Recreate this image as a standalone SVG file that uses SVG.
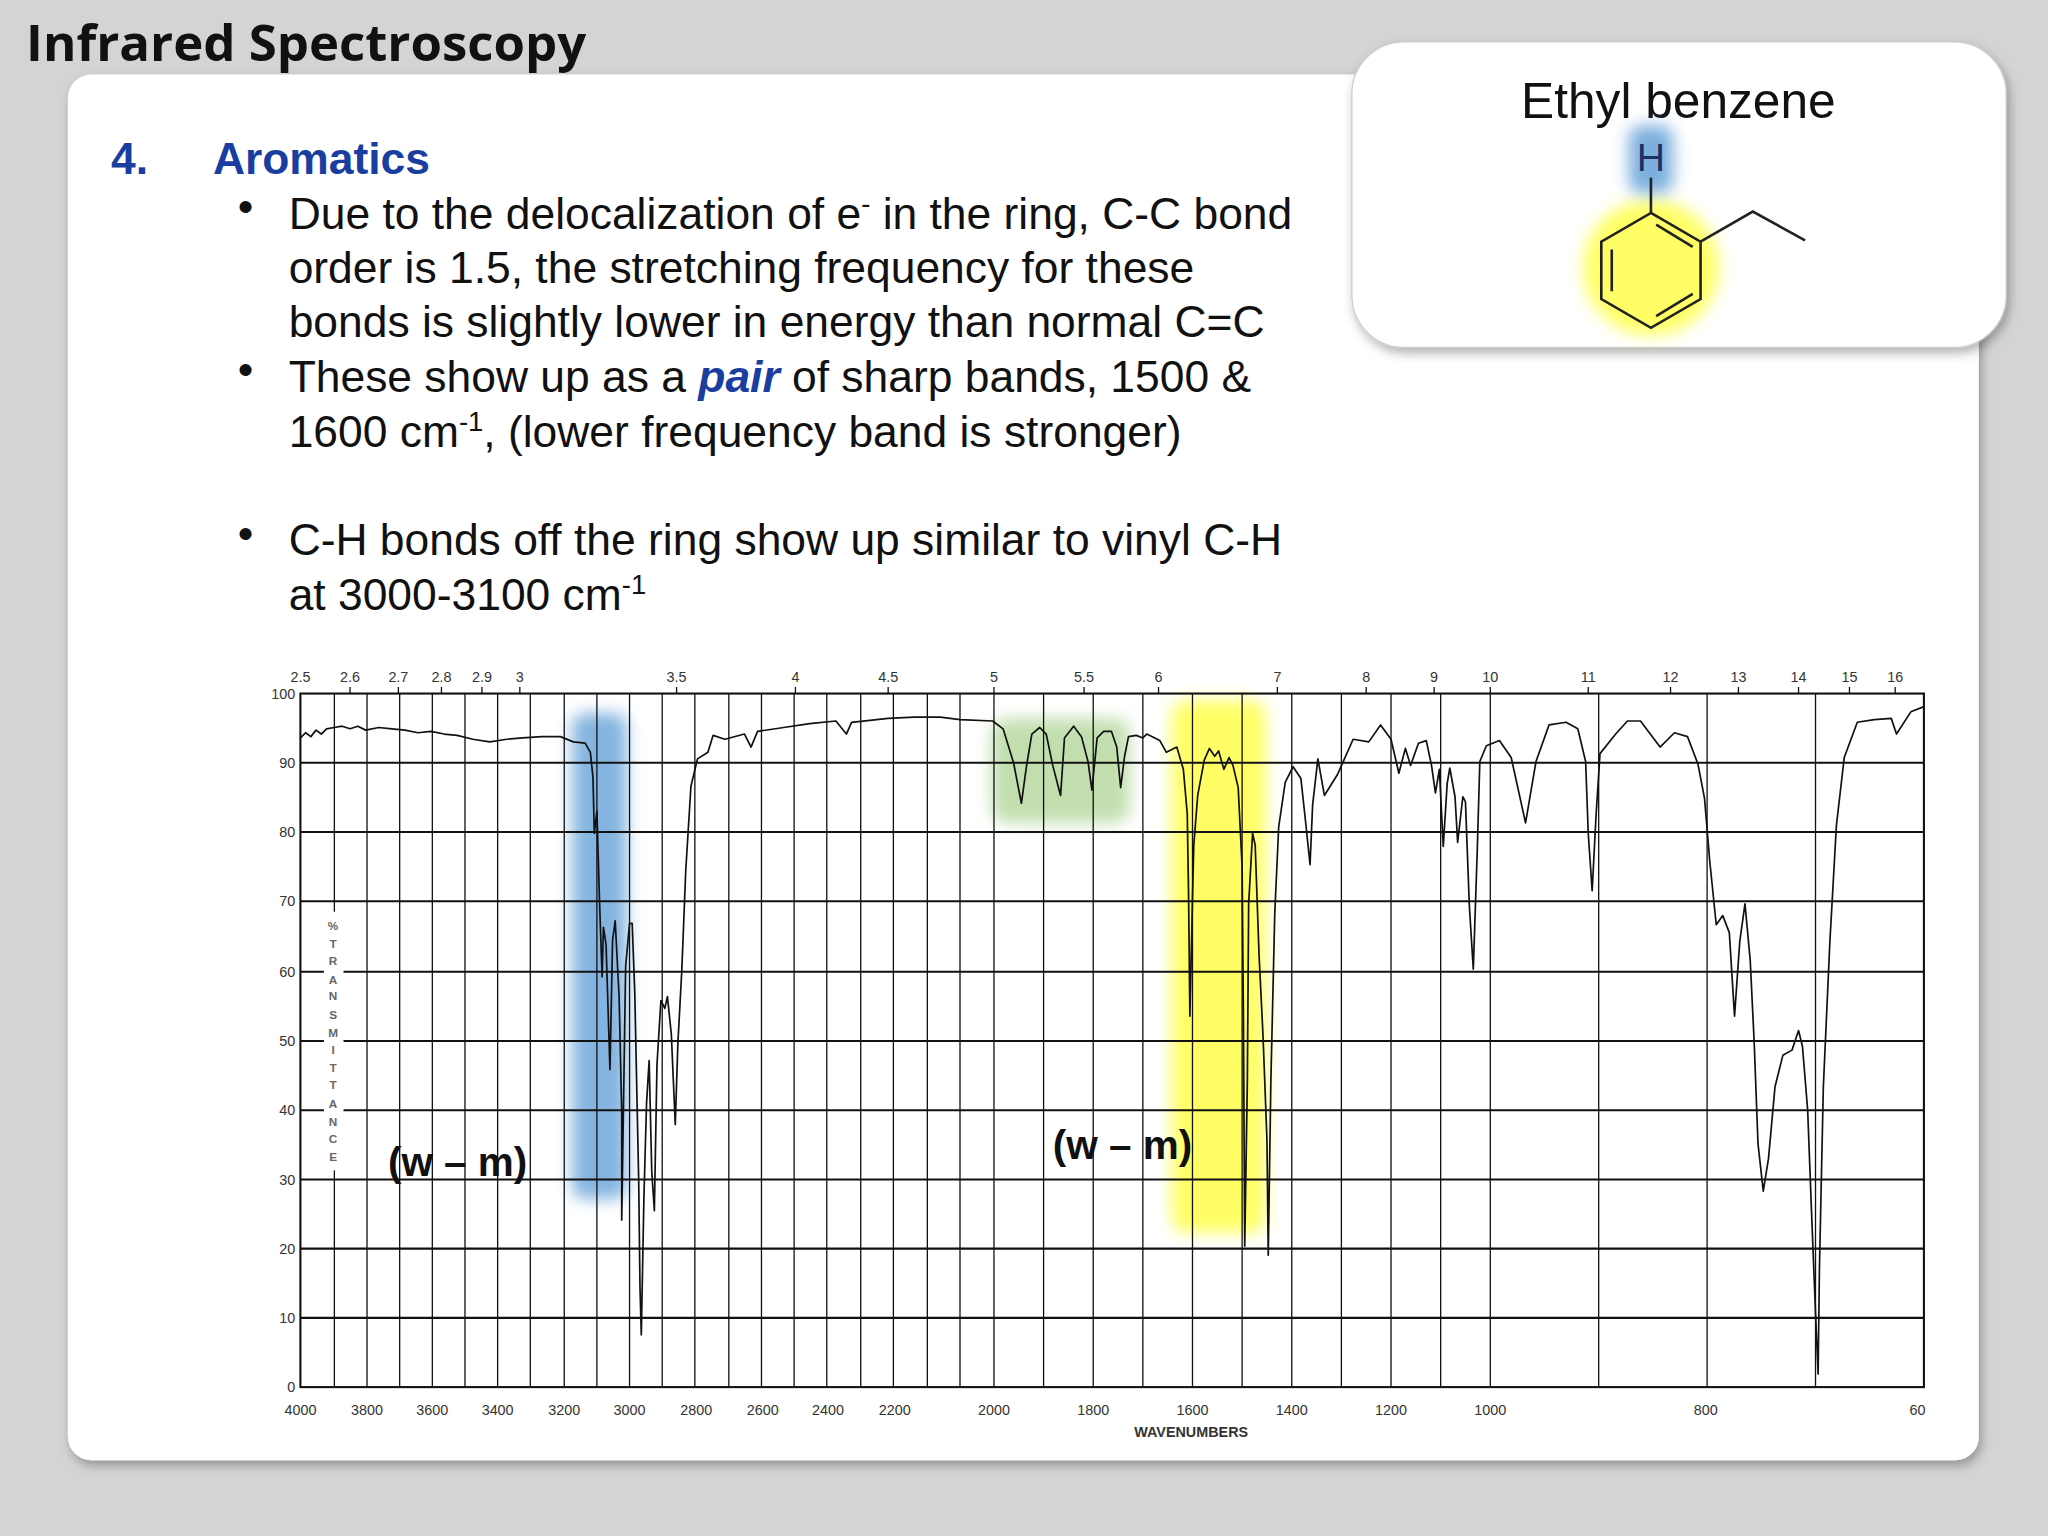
<svg xmlns="http://www.w3.org/2000/svg" width="2048" height="1536" viewBox="0 0 2048 1536">
<defs>
<filter id="sh" x="-5%" y="-5%" width="110%" height="110%"><feDropShadow dx="2" dy="4" stdDeviation="4" flood-color="#000" flood-opacity="0.3"/></filter>
<filter id="bl" x="-50%" y="-50%" width="200%" height="200%"><feGaussianBlur stdDeviation="6"/></filter>
<style>
.t{font-family:"Liberation Sans",Arial,sans-serif;fill:#111;font-size:34px}
.b{fill:#1a3ea0;font-weight:bold}
.ax{font-family:"Liberation Sans",Arial,sans-serif;font-size:11px;fill:#333}
.g{stroke:#111;stroke-width:1;fill:none}
.h{stroke:#111;stroke-width:1.6;fill:none}
.wm{font-family:"Liberation Sans",Arial,sans-serif;font-size:31px;font-weight:bold;fill:#111}
</style>
</defs>
<rect width="2048" height="1536" fill="#d4d4d4"/>
<g transform="scale(1.306122)">
<g id="panel"><rect x="52" y="57" width="1463" height="1061" rx="18" fill="#fff" filter="url(#sh)"/></g>
<g id="title"><text x="20" y="47" font-family="Open Sans,Noto Sans,sans-serif" font-weight="bold" font-size="39" fill="#111">Infrared Spectroscopy</text></g>
<g id="callout">
<rect x="1035" y="32" width="501" height="234" rx="40" fill="#fff" stroke="#ccc" filter="url(#sh)"/>
<text x="1285" y="90" text-anchor="middle" font-family="Liberation Sans,Arial,sans-serif" font-size="38" fill="#111">Ethyl benzene</text>
<circle cx="1264" cy="205" r="52" fill="#ffff33" opacity="0.75" filter="url(#bl)"/>
<rect x="1247" y="96" width="34" height="52" rx="10" fill="#5b9bd5" opacity="0.8" filter="url(#bl)"/>
<g stroke="#222" stroke-width="2" fill="none">
<polygon points="1264,163 1302,185 1302,229 1264,251 1226,229 1226,185"/>
<line x1="1234" y1="191" x2="1234" y2="223"/>
<line x1="1268" y1="172" x2="1296" y2="189"/>
<line x1="1268" y1="242" x2="1296" y2="225"/>
<polyline points="1302,185 1342,162 1382,184"/>
<line x1="1264" y1="163" x2="1264" y2="136"/>
</g>
<text x="1264" y="131" text-anchor="middle" font-family="Liberation Sans,Arial,sans-serif" font-size="30" fill="#1f2f5f">H</text>
</g>
<g id="text">
<text x="85" y="133" class="t b">4.</text>
<text x="163" y="133" class="t b">Aromatics</text>
<text x="182" y="170" class="t">•</text>
<text x="221" y="175" class="t">Due to the delocalization of e<tspan dy="-12" font-size="21">-</tspan><tspan dy="12"> in the ring, C-C bond</tspan></text>
<text x="221" y="217" class="t">order is 1.5, the stretching frequency for these</text>
<text x="221" y="258" class="t">bonds is slightly lower in energy than normal C=C</text>
<text x="182" y="295" class="t">•</text>
<text x="221" y="300" class="t">These show up as a <tspan class="b" font-style="italic">pair</tspan> of sharp bands, 1500 &amp;</text>
<text x="221" y="342" class="t">1600 cm<tspan dy="-12" font-size="21">-1</tspan><tspan dy="12">, (lower frequency band is stronger)</tspan></text>
<text x="182" y="420" class="t">•</text>
<text x="221" y="425" class="t">C-H bonds off the ring show up similar to vinyl C-H</text>
<text x="221" y="467" class="t">at 3000-3100 cm<tspan dy="-12" font-size="21">-1</tspan></text>
</g>
<g id="highlights">
<rect x="438" y="546" width="42" height="372" rx="10" fill="#5b9bd5" opacity="0.75" filter="url(#bl)"/>
<rect x="759" y="550" width="106" height="80" rx="12" fill="#a9d18e" opacity="0.7" filter="url(#bl)"/>
<rect x="897" y="536" width="72" height="408" rx="12" fill="#ffff33" opacity="0.75" filter="url(#bl)"/>
</g>
<g id="grid">
<path class="g" d="M256,531V1062M281,531V1062M306,531V1062M331,531V1062M356,531V1062M381,531V1062M406,531V1062M432,531V1062M457,531V1062M482,531V1062M507,531V1062M532,531V1062M558,531V1062M583,531V1062M608,531V1062M633,531V1062M659,531V1062M684,531V1062M710,531V1062M735,531V1062M761,531V1062M799,531V1062M837,531V1062M875,531V1062M913,531V1062M951,531V1062M989,531V1062M1027,531V1062M1065,531V1062M1103,531V1062M1141,531V1062M1224,531V1062M1307,531V1062M1390,531V1062"/>
<path class="h" d="M230,584H1473M230,637H1473M230,690H1473M230,744H1473M230,797H1473M230,850H1473M230,903H1473M230,956H1473M230,1009H1473"/>
<rect x="230" y="531" width="1243" height="531" fill="none" stroke="#111" stroke-width="1.6"/>
<rect x="248" y="698" width="15" height="198" fill="#fff"/>
<path class="g" d="M268,531v-5M305,531v-5M338,531v-5M369,531v-5M398,531v-5M518,531v-5M609,531v-5M680,531v-5M761,531v-5M830,531v-5M887,531v-5M978,531v-5M1046,531v-5M1098,531v-5M1141,531v-5M1216,531v-5M1279,531v-5M1331,531v-5M1377,531v-5M1416,531v-5M1451,531v-5"/>
<g class="ax" text-anchor="middle">
<text x="230" y="522">2.5</text><text x="268" y="522">2.6</text><text x="305" y="522">2.7</text><text x="338" y="522">2.8</text><text x="369" y="522">2.9</text><text x="398" y="522">3</text><text x="518" y="522">3.5</text><text x="609" y="522">4</text><text x="680" y="522">4.5</text><text x="761" y="522">5</text><text x="830" y="522">5.5</text><text x="887" y="522">6</text><text x="978" y="522">7</text><text x="1046" y="522">8</text><text x="1098" y="522">9</text><text x="1141" y="522">10</text><text x="1216" y="522">11</text><text x="1279" y="522">12</text><text x="1331" y="522">13</text><text x="1377" y="522">14</text><text x="1416" y="522">15</text><text x="1451" y="522">16</text>
<text x="230" y="1083">4000</text><text x="281" y="1083">3800</text><text x="331" y="1083">3600</text><text x="381" y="1083">3400</text><text x="432" y="1083">3200</text><text x="482" y="1083">3000</text><text x="533" y="1083">2800</text><text x="584" y="1083">2600</text><text x="634" y="1083">2400</text><text x="685" y="1083">2200</text><text x="761" y="1083">2000</text><text x="837" y="1083">1800</text><text x="913" y="1083">1600</text><text x="989" y="1083">1400</text><text x="1065" y="1083">1200</text><text x="1141" y="1083">1000</text><text x="1306" y="1083">800</text><text x="1468" y="1083">60</text>
<text x="912" y="1100" font-weight="bold">WAVENUMBERS</text>
</g>
<g class="ax" text-anchor="end">
<text x="226" y="535">100</text><text x="226" y="588">90</text><text x="226" y="641">80</text><text x="226" y="694">70</text><text x="226" y="748">60</text><text x="226" y="801">50</text><text x="226" y="854">40</text><text x="226" y="907">30</text><text x="226" y="960">20</text><text x="226" y="1013">10</text><text x="226" y="1066">0</text>
</g>
<g class="ax" text-anchor="middle" font-weight="bold" style="font-size:9px;fill:#666">
<text x="255" y="712">%</text><text x="255" y="726">T</text><text x="255" y="739">R</text><text x="255" y="753">A</text><text x="255" y="766">N</text><text x="255" y="780">S</text><text x="255" y="794">M</text><text x="255" y="807">I</text><text x="255" y="821">T</text><text x="255" y="834">T</text><text x="255" y="848">A</text><text x="255" y="862">N</text><text x="255" y="875">C</text><text x="255" y="889">E</text>
</g>
</g>
<g id="spectrum">
<polyline fill="none" stroke="#111" stroke-width="1.3" stroke-linejoin="round" points="230,565 234,561 238,564 242,559 246,562 250,558 256,557 262,556 268,558 274,556 280,559 290,557 300,558 310,559 320,561 330,560 340,562 350,563 362,566 375,568 388,566 400,565 415,564 429,564 439,568 448,569 452,576 454,595 455,638 457,621 459,690 461,748 462,710 464,723 467,819 469,720 471,705 474,763 476,852 476,934 479,740 482,707 484,707 486,760 489,904 490,986 491,1022 493,917 495,845 497,812 499,897 501,927 503,815 506,766 509,772 511,763 514,792 517,861 519,799 522,743 525,667 529,602 534,581 542,576 546,563 555,566 570,562 575,572 580,560 600,557 620,554 640,552 648,562 652,553 680,550 700,549 720,549 735,551 760,552 768,558 776,584 782,615 786,586 790,562 796,557 801,562 806,586 812,609 815,565 822,556 828,564 833,583 836,605 840,565 845,560 851,560 855,572 858,603 861,579 864,564 870,563 875,565 878,562 888,567 893,576 901,572 906,589 909,623 910,685 911,778 913,688 914,647 917,609 922,582 926,573 930,579 933,575 937,589 941,580 944,586 948,603 951,664 952,780 953,954 955,828 956,692 959,638 961,647 964,732 967,793 970,872 971,961 973,828 976,699 979,633 984,599 990,587 996,596 1000,633 1003,662 1005,616 1009,581 1014,609 1024,593 1036,566 1048,568 1057,555 1065,566 1071,592 1076,573 1080,586 1086,569 1092,567 1096,586 1099,607 1102,589 1105,648 1108,600 1110,588 1114,610 1116,645 1120,610 1122,614 1125,694 1128,742 1131,652 1133,583 1138,571 1148,567 1157,580 1168,630 1176,583 1186,555 1199,553 1208,558 1214,583 1216,638 1219,682 1222,624 1225,577 1237,562 1246,552 1256,552 1271,572 1282,561 1292,564 1300,585 1305,611 1309,659 1314,708 1319,701 1324,714 1328,778 1332,721 1336,692 1340,735 1343,797 1346,876 1350,912 1354,887 1359,832 1365,808 1372,804 1377,789 1380,801 1384,850 1387,929 1390,1005 1392,1052 1393,971 1396,832 1401,721 1406,632 1412,580 1422,553 1435,551 1448,550 1452,562 1463,545 1473,541"/>
</g>
<g id="labels">
<text x="297" y="900" class="wm">(w – m)</text>
<text x="806" y="887" class="wm">(w – m)</text>
</g>
</g>
</svg>
